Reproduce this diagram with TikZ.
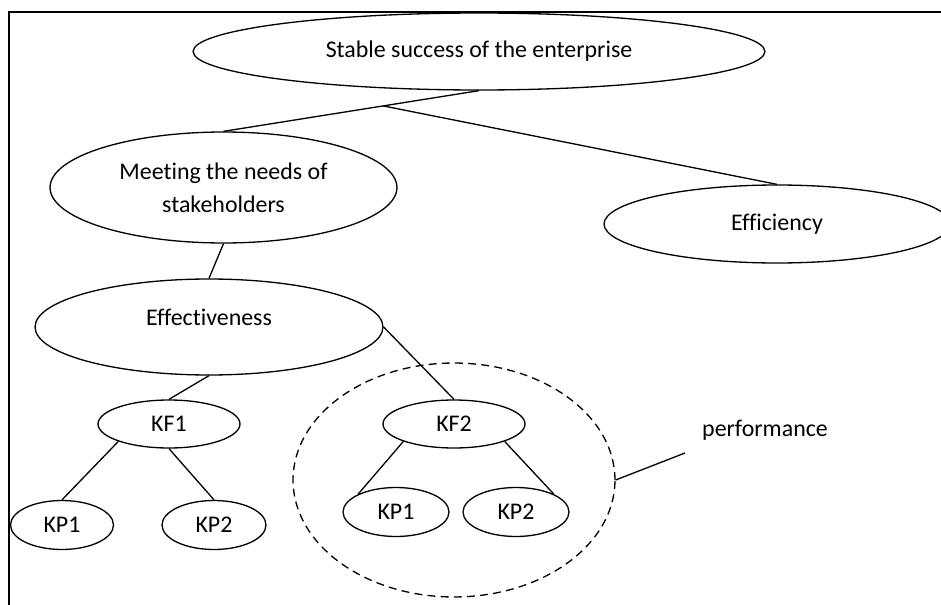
\documentclass[tikz,border=0pt]{standalone}
\usepackage{fontspec}
\setmainfont{Carlito}[Ligatures=NoCommon]
\usetikzlibrary{shapes.geometric}
\begin{document}
\begin{tikzpicture}[x=0.02cm,y=-0.02cm,line width=0.75pt,
  every node/.style={font=\fontsize{13.6}{19}\selectfont},
  oval/.style={draw,ellipse,inner sep=0pt,align=center},
  group/.style={draw,ellipse,inner sep=0pt,dash pattern=on 4.5pt off 3pt}]
  \useasboundingbox (0,0) rectangle (941,605);

  \draw (9,605) -- (9,12) -- (941,12);

  \node[oval,minimum width=11.44cm,minimum height=1.54cm] at (479,51.5) (top) {Stable success of the enterprise};

  \node[oval,minimum width=6.94cm,minimum height=2.22cm] at (223.5,187.5) (needs) {Meeting the needs of\\stakeholders};
  \node[oval,minimum width=6.92cm,minimum height=1.56cm] at (777,224) (eff) {Efficiency};

  \node[oval,minimum width=6.96cm,minimum height=1.92cm,text depth=0.4cm] at (209,327) (effect) {Effectiveness};

  \node[oval,minimum width=2.84cm,minimum height=0.96cm] at (169,424) (kf1) {KF1};
  \node[oval,minimum width=2.06cm,minimum height=0.98cm] at (62,525) (kp11) {KP1};
  \node[oval,minimum width=2.08cm,minimum height=0.98cm] at (214,525) (kp12) {KP2};

  \node[group,minimum width=6.44cm,minimum height=4.68cm] at (454,480) (perfgroup) {};
  \node[oval,minimum width=2.84cm,minimum height=0.96cm] at (454,424) (kf2) {KF2};
  \node[oval,minimum width=2.12cm,minimum height=0.98cm] at (396,512) (kp21) {KP1};
  \node[oval,minimum width=2.12cm,minimum height=0.98cm] at (516,512) (kp22) {KP2};

  \node at (765,430) (perf) {performance};
  \coordinate (perfend) at (685,453);

  \draw (top.south) -- coordinate[pos=0.375] (fork) (needs.north);
  \draw (fork) -- (eff.north);
  \draw (needs.south) -- (effect.north);

  \draw (effect.south) -- (kf1.north);
  \draw (kf1.south west) -- (kp11.north);
  \draw (kf1.south) -- (kp12.north);

  \draw (effect.east) -- (kf2.north);
  \draw (kf2.south west) -- (kp21.north west);
  \draw (kf2.south east) -- (kp22.north east);

  \draw (perfgroup.east) -- (perfend);
\end{tikzpicture}
\end{document}
